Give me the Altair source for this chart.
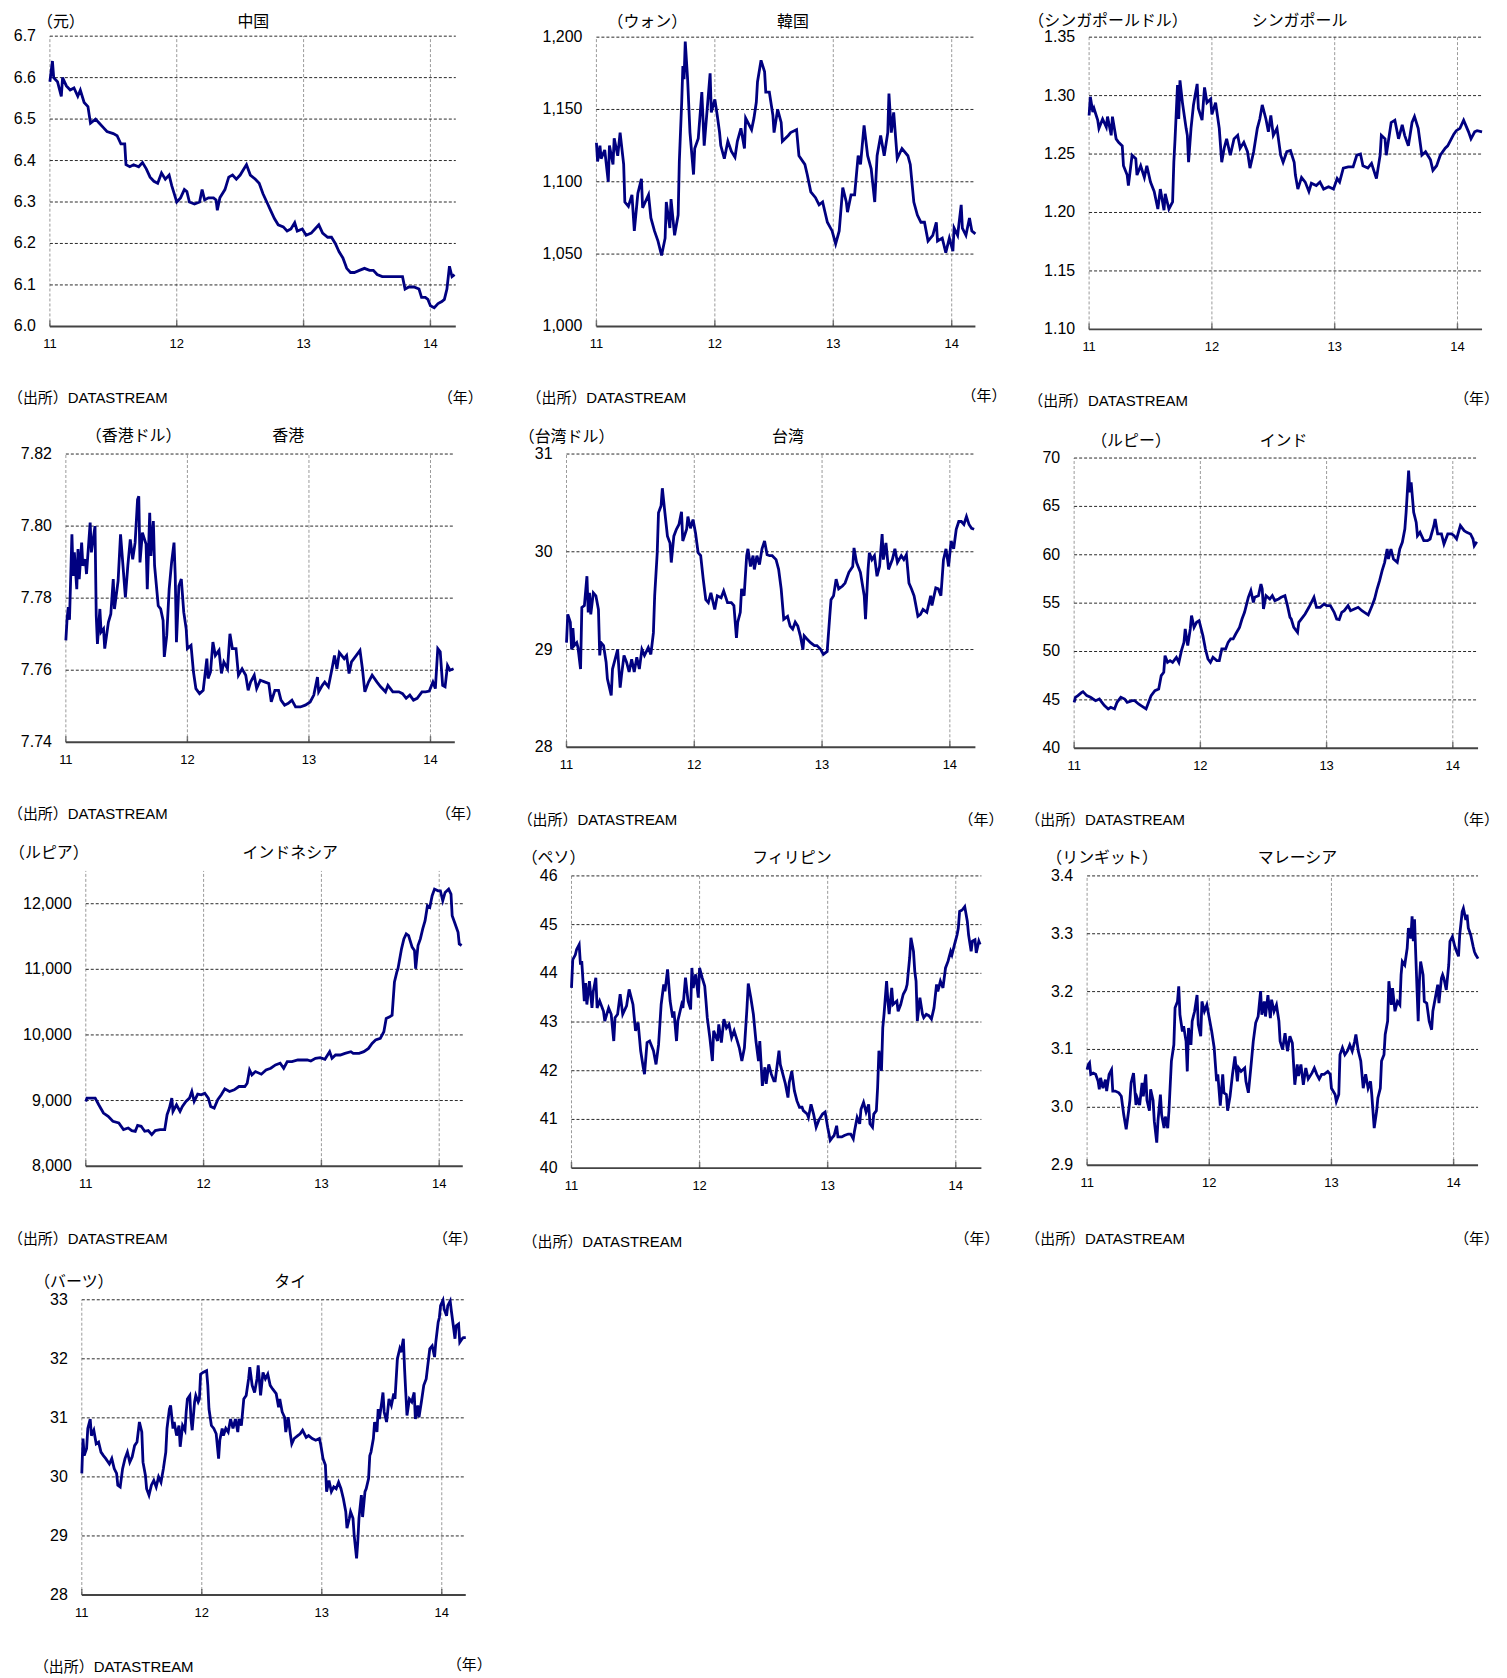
import altair as alt
import pandas as pd

# ---------------- data (decimal year, rate) ----------------
YEAR_TICKS = [11, 12, 13, 14]
X_DOMAIN = [11, 14.2]

CHINA = [(11.00,6.59),(11.02,6.64),(11.03,6.60),(11.06,6.59),(11.09,6.555),(11.10,6.60),(11.13,6.58),(11.16,6.57),(11.19,6.575),(11.22,6.555),(11.24,6.57),(11.27,6.54),(11.30,6.53),(11.32,6.49),(11.36,6.50),(11.39,6.49),(11.42,6.48),(11.45,6.47),(11.50,6.465),(11.53,6.46),(11.56,6.44),(11.59,6.44),(11.60,6.39),(11.63,6.385),(11.66,6.39),(11.70,6.385),(11.73,6.395),(11.76,6.38),(11.79,6.36),(11.82,6.35),(11.85,6.345),(11.88,6.37),(11.91,6.355),(11.94,6.365),(11.96,6.34),(11.98,6.32),(12.00,6.30),(12.03,6.31),(12.06,6.33),(12.08,6.325),(12.10,6.30),(12.14,6.295),(12.18,6.30),(12.20,6.33),(12.22,6.305),(12.25,6.31),(12.29,6.31),(12.31,6.305),(12.32,6.28),(12.34,6.31),(12.38,6.33),(12.41,6.36),(12.44,6.365),(12.47,6.355),(12.50,6.365),(12.53,6.38),(12.55,6.39),(12.58,6.365),(12.62,6.355),(12.65,6.345),(12.68,6.32),(12.71,6.30),(12.74,6.28),(12.77,6.26),(12.80,6.245),(12.84,6.24),(12.87,6.23),(12.90,6.235),(12.93,6.25),(12.95,6.23),(12.99,6.235),(13.02,6.22),(13.06,6.225),(13.09,6.235),(13.12,6.245),(13.15,6.225),(13.19,6.215),(13.22,6.215),(13.25,6.20),(13.28,6.18),(13.31,6.165),(13.34,6.14),(13.37,6.13),(13.40,6.13),(13.44,6.135),(13.48,6.14),(13.52,6.135),(13.55,6.135),(13.58,6.125),(13.62,6.12),(13.66,6.12),(13.70,6.12),(13.74,6.12),(13.78,6.12),(13.80,6.09),(13.83,6.095),(13.87,6.095),(13.91,6.09),(13.93,6.07),(13.96,6.07),(13.98,6.065),(14.00,6.05),(14.03,6.045),(14.06,6.055),(14.09,6.06),(14.11,6.065),(14.13,6.09),(14.15,6.145),(14.17,6.12),(14.19,6.125)]

KOREA = [(11.00,1127),(11.01,1114),(11.03,1125),(11.04,1116),(11.07,1122),(11.10,1100),(11.11,1125),(11.14,1112),(11.15,1130),(11.18,1118),(11.20,1134),(11.23,1112),(11.24,1086),(11.27,1083),(11.30,1091),(11.32,1066),(11.35,1092),(11.38,1102),(11.39,1082),(11.44,1091),(11.46,1075),(11.49,1066),(11.52,1059),(11.55,1049),(11.58,1061),(11.59,1086),(11.62,1068),(11.63,1088),(11.66,1063),(11.69,1077),(11.70,1114),(11.72,1155),(11.73,1180),(11.74,1171),(11.75,1197),(11.77,1171),(11.79,1134),(11.82,1105),(11.83,1123),(11.86,1130),(11.89,1162),(11.91,1125),(11.96,1175),(11.97,1148),(12.00,1157),(12.02,1146),(12.04,1134),(12.05,1125),(12.08,1116),(12.11,1128),(12.14,1121),(12.17,1117),(12.19,1128),(12.22,1137),(12.25,1123),(12.26,1144),(12.31,1136),(12.33,1144),(12.35,1155),(12.36,1169),(12.39,1184),(12.42,1176),(12.43,1162),(12.46,1162),(12.49,1146),(12.50,1134),(12.53,1150),(12.56,1141),(12.57,1128),(12.62,1132),(12.64,1134),(12.69,1136),(12.71,1118),(12.76,1112),(12.78,1105),(12.81,1093),(12.85,1089),(12.88,1084),(12.91,1086),(12.95,1072),(12.99,1066),(13.02,1057),(13.05,1066),(13.08,1096),(13.11,1086),(13.12,1079),(13.15,1091),(13.18,1091),(13.21,1118),(13.23,1112),(13.26,1139),(13.29,1118),(13.32,1109),(13.35,1086),(13.37,1118),(13.40,1132),(13.43,1118),(13.46,1134),(13.47,1161),(13.49,1134),(13.51,1148),(13.54,1116),(13.58,1123),(13.63,1118),(13.65,1112),(13.68,1086),(13.71,1077),(13.74,1072),(13.77,1072),(13.80,1059),(13.84,1063),(13.87,1072),(13.88,1059),(13.92,1061),(13.95,1051),(13.98,1061),(14.01,1052),(14.02,1068),(14.05,1063),(14.08,1084),(14.09,1068),(14.12,1063),(14.15,1075),(14.17,1066),(14.20,1064)]

SINGAPORE = [(11.00,1.283),(11.01,1.299),(11.03,1.286),(11.04,1.289),(11.07,1.279),(11.08,1.272),(11.11,1.280),(11.14,1.273),(11.15,1.282),(11.18,1.266),(11.19,1.282),(11.22,1.263),(11.24,1.260),(11.27,1.257),(11.28,1.240),(11.31,1.232),(11.32,1.223),(11.35,1.249),(11.38,1.246),(11.39,1.232),(11.42,1.240),(11.45,1.230),(11.47,1.240),(11.50,1.226),(11.53,1.218),(11.56,1.203),(11.58,1.220),(11.61,1.202),(11.62,1.216),(11.65,1.203),(11.68,1.209),(11.69,1.243),(11.70,1.263),(11.72,1.309),(11.73,1.280),(11.74,1.313),(11.76,1.294),(11.79,1.272),(11.80,1.266),(11.81,1.243),(11.83,1.272),(11.85,1.292),(11.88,1.310),(11.89,1.289),(11.92,1.279),(11.94,1.307),(11.96,1.294),(11.99,1.297),(12.00,1.284),(12.03,1.294),(12.06,1.272),(12.08,1.243),(12.10,1.255),(12.12,1.263),(12.15,1.249),(12.18,1.263),(12.21,1.266),(12.23,1.255),(12.26,1.260),(12.29,1.252),(12.31,1.238),(12.34,1.252),(12.37,1.272),(12.39,1.280),(12.41,1.292),(12.44,1.280),(12.46,1.269),(12.48,1.283),(12.50,1.266),(12.53,1.272),(12.56,1.249),(12.58,1.243),(12.61,1.252),(12.64,1.253),(12.67,1.243),(12.68,1.232),(12.70,1.220),(12.73,1.230),(12.76,1.226),(12.79,1.218),(12.81,1.225),(12.85,1.223),(12.88,1.226),(12.91,1.220),(12.95,1.222),(12.99,1.220),(13.02,1.229),(13.04,1.226),(13.07,1.238),(13.11,1.239),(13.15,1.239),(13.18,1.249),(13.21,1.250),(13.23,1.240),(13.27,1.238),(13.30,1.242),(13.34,1.229),(13.37,1.249),(13.38,1.266),(13.41,1.263),(13.42,1.249),(13.46,1.277),(13.49,1.279),(13.52,1.263),(13.55,1.275),(13.57,1.266),(13.60,1.257),(13.63,1.277),(13.65,1.282),(13.68,1.272),(13.71,1.249),(13.74,1.252),(13.78,1.245),(13.80,1.236),(13.83,1.240),(13.86,1.249),(13.90,1.255),(13.92,1.257),(13.97,1.267),(13.99,1.270),(14.02,1.272),(14.05,1.279),(14.09,1.269),(14.11,1.263),(14.14,1.269),(14.16,1.270),(14.20,1.269)]

HONGKONG = [(11.00,7.7683),(11.01,7.7742),(11.02,7.7775),(11.03,7.774),(11.05,7.7977),(11.06,7.7862),(11.07,7.7927),(11.09,7.7825),(11.10,7.7936),(11.11,7.7853),(11.13,7.7954),(11.14,7.789),(11.16,7.7908),(11.17,7.7867),(11.20,7.801),(11.21,7.7927),(11.24,7.800),(11.25,7.7752),(11.26,7.7673),(11.28,7.777),(11.29,7.7706),(11.31,7.7715),(11.32,7.766),(11.35,7.7733),(11.37,7.7756),(11.39,7.7853),(11.40,7.777),(11.43,7.7848),(11.45,7.7977),(11.47,7.789),(11.49,7.7802),(11.51,7.789),(11.53,7.7963),(11.55,7.7908),(11.57,7.7954),(11.59,7.8074),(11.60,7.8083),(11.61,7.7899),(11.63,7.7982),(11.66,7.795),(11.67,7.7825),(11.69,7.8037),(11.70,7.7917),(11.72,7.8014),(11.73,7.789),(11.76,7.7779),(11.78,7.777),(11.80,7.7738),(11.81,7.7637),(11.83,7.7696),(11.85,7.7825),(11.87,7.7899),(11.89,7.7954),(11.90,7.7862),(11.91,7.7678),(11.93,7.7834),(11.95,7.7853),(11.97,7.7761),(11.99,7.7715),(12.00,7.766),(12.03,7.7669),(12.05,7.7595),(12.07,7.7549),(12.10,7.7535),(12.13,7.7544),(12.16,7.7632),(12.17,7.7577),(12.19,7.7595),(12.21,7.7678),(12.23,7.7641),(12.26,7.7655),(12.28,7.7591),(12.30,7.7623),(12.33,7.7604),(12.35,7.7701),(12.37,7.766),(12.40,7.766),(12.42,7.7586),(12.45,7.7604),(12.48,7.7586),(12.50,7.7544),(12.52,7.7567),(12.55,7.7586),(12.57,7.7549),(12.60,7.7572),(12.64,7.7567),(12.67,7.7563),(12.69,7.7512),(12.72,7.7544),(12.75,7.7544),(12.77,7.7517),(12.80,7.7503),(12.83,7.7508),(12.86,7.7517),(12.89,7.7498),(12.93,7.7498),(12.97,7.7503),(13.01,7.7512),(13.04,7.7531),(13.07,7.7581),(13.08,7.754),(13.11,7.7558),(13.13,7.7567),(13.16,7.7554),(13.19,7.7604),(13.21,7.7641),(13.23,7.7604),(13.25,7.7649),(13.29,7.7632),(13.31,7.7641),(13.33,7.7591),(13.35,7.7623),(13.37,7.7632),(13.39,7.7641),(13.42,7.7655),(13.44,7.7604),(13.46,7.754),(13.49,7.7567),(13.52,7.7586),(13.56,7.7567),(13.59,7.7554),(13.63,7.754),(13.65,7.7558),(13.69,7.754),(13.74,7.754),(13.77,7.7535),(13.80,7.7522),(13.83,7.7531),(13.86,7.7517),(13.89,7.7522),(13.93,7.754),(13.96,7.754),(13.99,7.7542),(14.02,7.7567),(14.04,7.7549),(14.06,7.766),(14.08,7.7651),(14.10,7.7558),(14.12,7.7554),(14.14,7.7613),(14.16,7.760),(14.19,7.7604)]

TAIWAN = [(11.00,29.07),(11.01,29.36),(11.03,29.28),(11.04,29.00),(11.05,29.22),(11.06,29.04),(11.08,29.07),(11.09,29.02),(11.11,28.80),(11.12,29.43),(11.14,29.45),(11.16,29.75),(11.17,29.38),(11.18,29.58),(11.19,29.36),(11.21,29.58),(11.23,29.55),(11.25,29.41),(11.26,28.94),(11.27,29.07),(11.29,29.04),(11.31,28.87),(11.32,28.70),(11.35,28.53),(11.36,28.80),(11.38,28.90),(11.40,29.00),(11.42,28.61),(11.43,28.73),(11.45,28.94),(11.47,28.87),(11.49,28.77),(11.51,28.90),(11.53,28.77),(11.55,28.92),(11.57,28.80),(11.59,29.00),(11.61,28.94),(11.64,29.02),(11.66,28.95),(11.68,29.17),(11.69,29.55),(11.71,29.99),(11.72,30.40),(11.74,30.47),(11.75,30.65),(11.77,30.40),(11.79,30.16),(11.81,30.09),(11.82,29.89),(11.84,30.16),(11.86,30.23),(11.88,30.28),(11.90,30.41),(11.91,30.11),(11.94,30.23),(11.95,30.36),(11.97,30.24),(11.99,30.33),(12.01,30.19),(12.03,29.99),(12.05,29.96),(12.07,29.72),(12.09,29.51),(12.11,29.48),(12.13,29.58),(12.16,29.41),(12.18,29.55),(12.21,29.53),(12.23,29.60),(12.26,29.48),(12.29,29.48),(12.31,29.45),(12.33,29.12),(12.34,29.28),(12.36,29.38),(12.37,29.62),(12.39,29.55),(12.41,29.96),(12.42,30.03),(12.44,29.85),(12.46,29.96),(12.47,29.82),(12.49,29.96),(12.51,29.87),(12.53,30.03),(12.55,30.11),(12.57,29.97),(12.59,29.96),(12.61,29.96),(12.64,29.92),(12.66,29.82),(12.68,29.62),(12.70,29.31),(12.73,29.34),(12.75,29.24),(12.77,29.21),(12.79,29.28),(12.81,29.24),(12.83,29.14),(12.85,29.00),(12.86,29.14),(12.88,29.11),(12.91,29.07),(12.94,29.04),(12.96,29.04),(12.99,29.00),(13.01,28.95),(13.04,28.98),(13.06,29.34),(13.07,29.51),(13.09,29.55),(13.11,29.72),(13.13,29.62),(13.16,29.65),(13.18,29.68),(13.21,29.79),(13.24,29.85),(13.25,30.04),(13.27,29.89),(13.30,29.79),(13.33,29.55),(13.34,29.31),(13.36,29.82),(13.37,29.99),(13.39,29.92),(13.41,29.96),(13.43,29.75),(13.45,29.85),(13.47,30.18),(13.48,29.92),(13.50,30.09),(13.52,29.82),(13.55,29.92),(13.57,30.03),(13.59,29.89),(13.62,29.96),(13.64,29.92),(13.66,29.97),(13.68,29.68),(13.70,29.62),(13.72,29.55),(13.73,29.48),(13.75,29.34),(13.77,29.36),(13.79,29.41),(13.82,29.38),(13.85,29.55),(13.86,29.45),(13.89,29.63),(13.91,29.62),(13.93,29.55),(13.95,29.92),(13.97,30.03),(13.99,29.85),(14.01,30.11),(14.03,30.03),(14.05,30.23),(14.07,30.31),(14.09,30.31),(14.11,30.28),(14.13,30.36),(14.15,30.28),(14.17,30.24),(14.19,30.23)]

INDIA = [(11.00,44.75),(11.01,45.27),(11.03,45.44),(11.06,45.78),(11.07,45.85),(11.10,45.44),(11.13,45.27),(11.15,45.09),(11.17,44.92),(11.20,45.09),(11.22,44.75),(11.24,44.41),(11.27,44.06),(11.29,44.23),(11.32,44.06),(11.34,44.75),(11.37,45.27),(11.40,45.09),(11.42,44.75),(11.46,44.92),(11.48,44.92),(11.51,44.58),(11.53,44.41),(11.57,44.06),(11.59,44.75),(11.61,45.44),(11.64,45.96),(11.67,46.13),(11.69,47.51),(11.71,47.85),(11.72,49.57),(11.74,48.88),(11.76,49.06),(11.78,48.88),(11.81,49.40),(11.83,48.88),(11.85,50.09),(11.87,50.95),(11.88,52.33),(11.90,50.61),(11.92,52.33),(11.93,53.71),(11.95,52.50),(11.97,53.02),(11.99,53.19),(12.02,51.64),(12.04,50.26),(12.06,49.23),(12.08,48.88),(12.10,49.40),(12.13,49.06),(12.15,49.06),(12.17,50.26),(12.20,50.26),(12.22,50.95),(12.24,51.30),(12.26,51.30),(12.28,51.81),(12.31,52.50),(12.33,53.36),(12.35,54.05),(12.38,55.60),(12.40,56.29),(12.42,55.08),(12.43,55.60),(12.46,55.77),(12.48,56.98),(12.49,56.46),(12.50,54.40),(12.52,55.77),(12.55,55.43),(12.57,55.77),(12.59,55.26),(12.62,55.43),(12.64,55.60),(12.67,55.77),(12.69,54.74),(12.71,53.53),(12.72,53.36),(12.74,52.50),(12.77,51.98),(12.78,53.02),(12.81,53.53),(12.83,53.88),(12.86,54.57),(12.88,55.08),(12.90,55.60),(12.92,54.57),(12.95,54.57),(12.98,54.91),(13.00,54.74),(13.03,54.74),(13.06,54.05),(13.08,53.36),(13.10,53.29),(13.12,54.05),(13.14,54.22),(13.17,54.74),(13.19,54.22),(13.22,54.40),(13.25,54.57),(13.28,54.22),(13.30,54.05),(13.33,53.78),(13.36,54.74),(13.38,55.43),(13.40,56.46),(13.42,57.32),(13.44,58.36),(13.46,59.22),(13.48,60.60),(13.49,59.56),(13.51,60.60),(13.53,59.56),(13.56,59.22),(13.58,60.60),(13.60,61.29),(13.62,62.66),(13.63,64.39),(13.65,68.69),(13.66,66.45),(13.67,67.49),(13.69,64.39),(13.71,63.35),(13.72,61.97),(13.74,62.32),(13.77,61.46),(13.80,61.46),(13.82,61.63),(13.85,63.01),(13.86,63.70),(13.88,62.15),(13.91,62.15),(13.93,61.11),(13.96,62.15),(13.99,62.15),(14.01,61.97),(14.03,61.63),(14.06,63.01),(14.09,62.49),(14.11,62.32),(14.14,62.15),(14.16,61.63),(14.17,60.94),(14.19,61.35)]

INDONESIA = [(11.00,8986),(11.01,9037),(11.04,9037),(11.08,9037),(11.11,8936),(11.15,8809),(11.19,8758),(11.23,8683),(11.28,8657),(11.32,8556),(11.36,8582),(11.39,8541),(11.42,8531),(11.44,8622),(11.47,8607),(11.50,8531),(11.53,8541),(11.56,8480),(11.59,8541),(11.63,8556),(11.67,8556),(11.69,8784),(11.71,8885),(11.73,9037),(11.74,8834),(11.77,8936),(11.80,8834),(11.82,8910),(11.85,8986),(11.88,9037),(11.90,9138),(11.92,8986),(11.95,9097),(11.98,9087),(12.01,9112),(12.04,9037),(12.06,8910),(12.09,8885),(12.12,9011),(12.15,9087),(12.18,9178),(12.22,9138),(12.26,9163),(12.30,9214),(12.35,9214),(12.37,9264),(12.39,9466),(12.41,9391),(12.44,9441),(12.49,9401),(12.53,9466),(12.57,9492),(12.61,9542),(12.65,9568),(12.68,9492),(12.71,9593),(12.75,9593),(12.80,9618),(12.84,9618),(12.88,9618),(12.91,9603),(12.95,9643),(12.99,9654),(13.03,9628),(13.07,9745),(13.09,9643),(13.12,9694),(13.16,9694),(13.20,9719),(13.25,9745),(13.27,9719),(13.32,9719),(13.36,9745),(13.40,9795),(13.43,9871),(13.46,9922),(13.50,9947),(13.53,10048),(13.55,10250),(13.58,10276),(13.60,10301),(13.62,10807),(13.64,10958),(13.65,11009),(13.68,11312),(13.70,11464),(13.72,11540),(13.74,11515),(13.77,11338),(13.79,11287),(13.80,11009),(13.82,11363),(13.84,11464),(13.86,11616),(13.88,11742),(13.90,11970),(13.92,11945),(13.94,12122),(13.96,12223),(13.99,12197),(14.01,12197),(14.03,12046),(14.05,12172),(14.08,12223),(14.10,12147),(14.11,11818),(14.13,11717),(14.16,11565),(14.17,11388),(14.19,11363)]

PHILIPPINES = [(11.00,43.70),(11.01,44.28),(11.03,44.38),(11.04,44.49),(11.06,44.59),(11.07,44.18),(11.08,44.25),(11.10,43.43),(11.11,43.80),(11.12,43.36),(11.14,43.84),(11.16,43.29),(11.17,43.63),(11.19,43.91),(11.20,43.29),(11.22,43.43),(11.25,43.22),(11.26,43.02),(11.29,43.29),(11.31,43.16),(11.33,42.61),(11.34,43.09),(11.36,43.16),(11.38,43.57),(11.40,43.16),(11.43,43.33),(11.45,43.67),(11.48,43.36),(11.50,42.82),(11.52,42.99),(11.54,42.41),(11.56,42.07),(11.57,41.93),(11.59,42.58),(11.61,42.61),(11.64,42.41),(11.66,42.13),(11.68,42.54),(11.70,43.36),(11.72,43.77),(11.73,43.63),(11.75,44.08),(11.77,43.43),(11.79,43.09),(11.80,43.22),(11.82,42.61),(11.83,43.02),(11.86,43.36),(11.87,43.29),(11.89,43.91),(11.91,43.43),(11.93,43.26),(11.94,44.11),(11.95,43.70),(11.97,43.98),(11.99,43.50),(12.00,44.11),(12.02,43.91),(12.04,43.74),(12.05,43.43),(12.06,43.09),(12.08,42.68),(12.10,42.20),(12.11,42.82),(12.14,42.61),(12.15,42.95),(12.17,42.58),(12.19,43.06),(12.21,42.88),(12.23,42.95),(12.25,42.68),(12.27,42.82),(12.29,42.65),(12.31,42.47),(12.33,42.20),(12.35,42.47),(12.37,43.29),(12.38,43.79),(12.40,43.50),(12.42,43.16),(12.44,42.61),(12.46,42.20),(12.47,42.61),(12.49,41.69),(12.51,42.07),(12.52,41.73),(12.54,42.13),(12.56,41.93),(12.58,41.79),(12.59,41.79),(12.62,42.41),(12.63,42.13),(12.65,41.93),(12.67,41.73),(12.69,41.45),(12.70,41.76),(12.72,41.99),(12.74,41.59),(12.76,41.38),(12.78,41.25),(12.80,41.25),(12.81,41.18),(12.84,41.11),(12.85,41.04),(12.87,41.31),(12.89,41.11),(12.91,40.84),(12.93,40.98),(12.96,41.11),(12.98,41.15),(13.00,40.84),(13.02,40.57),(13.04,40.64),(13.05,40.67),(13.07,40.87),(13.08,40.64),(13.11,40.64),(13.13,40.67),(13.16,40.70),(13.18,40.70),(13.20,40.60),(13.21,40.77),(13.23,41.04),(13.25,40.91),(13.26,41.21),(13.28,41.35),(13.30,41.15),(13.32,41.31),(13.33,40.91),(13.35,40.84),(13.36,41.11),(13.38,41.18),(13.39,41.66),(13.40,42.41),(13.42,42.00),(13.43,42.88),(13.44,43.16),(13.46,43.84),(13.47,43.43),(13.48,43.16),(13.50,43.70),(13.51,43.36),(13.54,43.43),(13.55,43.22),(13.57,43.36),(13.59,43.57),(13.61,43.67),(13.62,43.77),(13.64,44.32),(13.65,44.73),(13.67,44.45),(13.68,44.04),(13.69,43.84),(13.70,43.02),(13.72,43.50),(13.74,43.16),(13.75,43.09),(13.77,43.16),(13.79,43.13),(13.81,43.06),(13.83,43.29),(13.85,43.77),(13.86,43.63),(13.88,43.84),(13.90,43.70),(13.92,44.11),(13.94,44.25),(13.96,44.45),(13.97,44.38),(13.99,44.59),(14.01,44.79),(14.02,44.93),(14.03,45.27),(14.05,45.30),(14.07,45.37),(14.09,45.07),(14.10,44.79),(14.12,44.45),(14.13,44.66),(14.15,44.69),(14.16,44.42),(14.18,44.66),(14.19,44.59)]

MALAYSIA = [(11.00,3.065),(11.01,3.074),(11.02,3.077),(11.03,3.057),(11.05,3.059),(11.07,3.057),(11.09,3.045),(11.10,3.031),(11.11,3.051),(11.13,3.033),(11.15,3.048),(11.16,3.028),(11.18,3.057),(11.20,3.065),(11.21,3.028),(11.23,3.028),(11.26,3.025),(11.28,3.019),(11.30,2.987),(11.32,2.962),(11.34,2.994),(11.35,3.012),(11.36,3.042),(11.38,3.059),(11.40,3.004),(11.41,3.016),(11.43,3.004),(11.45,3.042),(11.46,3.019),(11.48,3.057),(11.49,3.012),(11.51,2.994),(11.52,3.031),(11.54,3.012),(11.55,2.976),(11.57,2.939),(11.58,2.976),(11.60,3.022),(11.61,2.987),(11.63,2.964),(11.64,2.984),(11.66,2.964),(11.67,2.994),(11.69,3.080),(11.71,3.108),(11.72,3.172),(11.74,3.183),(11.75,3.209),(11.76,3.160),(11.78,3.131),(11.79,3.140),(11.81,3.114),(11.82,3.062),(11.83,3.137),(11.85,3.108),(11.86,3.149),(11.88,3.166),(11.90,3.194),(11.91,3.143),(11.93,3.123),(11.94,3.183),(11.96,3.166),(11.98,3.177),(12.00,3.154),(12.02,3.131),(12.04,3.103),(12.06,3.045),(12.07,3.057),(12.09,3.003),(12.11,3.057),(12.12,3.025),(12.14,3.022),(12.15,2.994),(12.17,3.019),(12.19,3.057),(12.21,3.088),(12.23,3.045),(12.24,3.068),(12.26,3.062),(12.29,3.068),(12.30,3.045),(12.32,3.025),(12.34,3.068),(12.36,3.114),(12.38,3.146),(12.40,3.157),(12.42,3.201),(12.43,3.160),(12.45,3.183),(12.46,3.157),(12.48,3.194),(12.50,3.154),(12.51,3.186),(12.53,3.166),(12.55,3.177),(12.57,3.149),(12.58,3.114),(12.60,3.100),(12.62,3.128),(12.64,3.097),(12.66,3.123),(12.68,3.111),(12.70,3.039),(12.72,3.074),(12.73,3.054),(12.75,3.074),(12.77,3.039),(12.79,3.068),(12.81,3.049),(12.84,3.059),(12.86,3.068),(12.88,3.057),(12.90,3.049),(12.92,3.057),(12.94,3.057),(12.97,3.062),(12.99,3.057),(13.00,3.033),(13.03,3.022),(13.04,3.010),(13.06,3.022),(13.07,3.091),(13.09,3.103),(13.11,3.091),(13.13,3.097),(13.15,3.108),(13.17,3.097),(13.19,3.114),(13.20,3.126),(13.22,3.097),(13.24,3.080),(13.26,3.033),(13.28,3.057),(13.30,3.033),(13.32,3.045),(13.33,3.022),(13.35,2.964),(13.37,2.994),(13.38,3.016),(13.40,3.033),(13.41,3.080),(13.43,3.091),(13.44,3.126),(13.46,3.149),(13.47,3.218),(13.49,3.177),(13.50,3.206),(13.52,3.166),(13.54,3.183),(13.56,3.177),(13.57,3.229),(13.58,3.252),(13.60,3.246),(13.62,3.275),(13.63,3.310),(13.65,3.292),(13.66,3.330),(13.67,3.287),(13.68,3.325),(13.69,3.264),(13.71,3.149),(13.72,3.218),(13.73,3.252),(13.75,3.229),(13.76,3.183),(13.78,3.180),(13.80,3.149),(13.82,3.134),(13.83,3.166),(13.85,3.189),(13.87,3.212),(13.88,3.180),(13.90,3.223),(13.91,3.229),(13.92,3.223),(13.94,3.203),(13.96,3.246),(13.97,3.287),(13.99,3.295),(14.01,3.278),(14.02,3.272),(14.04,3.261),(14.05,3.298),(14.07,3.338),(14.08,3.344),(14.10,3.324),(14.11,3.333),(14.12,3.310),(14.14,3.298),(14.16,3.278),(14.17,3.269),(14.18,3.264),(14.20,3.257)]

THAILAND = [(11.00,30.06),(11.01,30.65),(11.02,30.36),(11.04,30.48),(11.05,30.82),(11.07,30.98),(11.08,30.70),(11.10,30.79),(11.12,30.56),(11.14,30.59),(11.16,30.42),(11.18,30.36),(11.20,30.31),(11.23,30.22),(11.25,30.31),(11.27,30.14),(11.29,30.06),(11.30,29.86),(11.32,29.83),(11.34,30.14),(11.36,30.31),(11.38,30.42),(11.40,30.25),(11.42,30.34),(11.44,30.53),(11.46,30.59),(11.48,30.93),(11.50,30.76),(11.51,30.25),(11.53,30.03),(11.54,29.80),(11.56,29.69),(11.58,29.86),(11.60,29.94),(11.62,29.83),(11.64,30.00),(11.66,29.91),(11.68,30.14),(11.70,30.42),(11.71,30.82),(11.73,31.15),(11.74,31.21),(11.76,30.82),(11.77,30.93),(11.79,30.70),(11.81,30.87),(11.82,30.51),(11.84,30.87),(11.86,30.79),(11.87,31.10),(11.88,31.32),(11.90,31.38),(11.91,30.98),(11.92,30.79),(11.94,31.27),(11.95,31.38),(11.97,31.27),(11.98,31.32),(11.99,31.74),(12.01,31.77),(12.04,31.80),(12.05,31.55),(12.06,31.15),(12.08,30.87),(12.10,30.82),(12.12,30.73),(12.14,30.31),(12.15,30.62),(12.17,30.82),(12.18,30.70),(12.20,30.82),(12.22,30.76),(12.24,30.98),(12.26,30.82),(12.28,30.98),(12.30,30.76),(12.31,30.98),(12.33,30.87),(12.35,31.32),(12.37,31.38),(12.39,31.66),(12.40,31.86),(12.42,31.55),(12.44,31.43),(12.46,31.66),(12.47,31.89),(12.49,31.38),(12.51,31.77),(12.53,31.66),(12.55,31.74),(12.57,31.55),(12.59,31.49),(12.62,31.41),(12.64,31.18),(12.65,31.32),(12.67,31.10),(12.69,31.01),(12.70,30.76),(12.72,31.01),(12.74,30.70),(12.75,30.56),(12.77,30.65),(12.80,30.70),(12.82,30.73),(12.84,30.79),(12.87,30.67),(12.89,30.70),(12.92,30.65),(12.95,30.62),(12.98,30.65),(12.99,30.56),(13.01,30.31),(13.03,30.20),(13.04,29.75),(13.06,29.94),(13.08,29.75),(13.10,29.83),(13.12,29.80),(13.14,29.91),(13.16,29.80),(13.18,29.63),(13.20,29.41),(13.21,29.13),(13.23,29.30),(13.24,29.41),(13.26,29.30),(13.27,29.01),(13.29,28.62),(13.30,28.90),(13.31,29.30),(13.33,29.69),(13.34,29.32),(13.36,29.75),(13.37,29.80),(13.39,29.97),(13.40,30.36),(13.41,30.42),(13.43,30.65),(13.44,30.93),(13.46,30.76),(13.47,31.15),(13.48,30.98),(13.50,31.27),(13.51,31.43),(13.52,31.10),(13.54,30.93),(13.56,31.32),(13.58,31.21),(13.60,31.41),(13.61,31.32),(13.63,32.00),(13.65,32.17),(13.66,32.11),(13.68,32.34),(13.69,31.83),(13.70,31.43),(13.71,31.04),(13.73,31.32),(13.75,31.27),(13.77,31.43),(13.78,30.98),(13.80,31.21),(13.81,31.01),(13.83,31.27),(13.85,31.55),(13.87,31.66),(13.88,31.83),(13.90,32.17),(13.92,32.22),(13.94,32.03),(13.95,32.28),(13.97,32.62),(13.98,32.70),(13.99,32.90),(14.01,32.99),(14.02,32.84),(14.04,32.73),(14.05,32.90),(14.07,32.98),(14.08,32.81),(14.10,32.50),(14.11,32.34),(14.12,32.56),(14.14,32.59),(14.15,32.28),(14.17,32.34),(14.18,32.36),(14.20,32.36)]

TITLES = ["中国", "韓国", "シンガポール", "香港", "台湾", "インド", "インドネシア", "フィリピン", "マレーシア", "タイ"]
UNITS = ["（元）", "（ウォン）", "（シンガポールドル）", "（香港ドル）", "（台湾ドル）", "（ルピー）", "（ルピア）", "（ペソ）", "（リンギット）", "（バーツ）"]
SOURCE = "（出所）DATASTREAM"
YEAR_LABEL = "（年）"

Y_TICKS = [
    [6.0, 6.1, 6.2, 6.3, 6.4, 6.5, 6.6, 6.7],
    [1000, 1050, 1100, 1150, 1200],
    [1.10, 1.15, 1.20, 1.25, 1.30, 1.35],
    [7.74, 7.76, 7.78, 7.80, 7.82],
    [28, 29, 30, 31],
    [40, 45, 50, 55, 60, 65, 70],
    [8000, 9000, 10000, 11000, 12000],
    [40, 41, 42, 43, 44, 45, 46],
    [2.9, 3.0, 3.1, 3.2, 3.3, 3.4],
    [28, 29, 30, 31, 32, 33],
]
Y_DOMAINS = [[6.0, 6.7], [1000, 1200], [1.10, 1.35], [7.74, 7.82], [28, 31],
             [40, 70], [8000, 12500], [40, 46], [2.9, 3.4], [28, 33]]
Y_FORMATS = [".1f", ",", ".2f", ".2f", "d", "d", ",", "d", ".1f", "d"]
SERIES = [CHINA, KOREA, SINGAPORE, HONGKONG, TAIWAN, INDIA, INDONESIA, PHILIPPINES, MALAYSIA, THAILAND]

# ---------------- layout (plot boxes in chart pixels) ----------------
BOXES = [  # left, top, right, bottom
    (42, 26, 449, 317), (590, 27, 970, 317), (1084, 27, 1478, 320),
    (58, 445, 448, 734), (560, 445, 970, 739), (1069, 449, 1474, 740),
    (78, 863, 456, 1159), (565, 868, 976, 1161), (1082, 868, 1474, 1158),
    (74, 1293, 459, 1589),
]
UNIT_POS = [(53, 12), (641, 12), (1103, 11), (126, 427), (560, 428), (1126, 432),
            (41, 845), (547, 850), (1097, 850), (66, 1275)]
TITLE_POS = [(246, 12), (787, 12), (1295, 11), (281, 427), (782, 428), (1279, 432),
             (283, 845), (786, 850), (1293, 850), (283, 1275)]
SRC_POS = [(0, 389), (520, 389), (1023, 392), (0, 806), (511, 812), (1020, 812),
           (0, 1232), (516, 1235), (1020, 1232), (26, 1661)]
YEAR_POS = [(476, 389), (1001, 387), (1495, 390), (474, 806), (998, 812), (1495, 812),
            (471, 1232), (994, 1232), (1495, 1232), (485, 1659)]

W, H = 1491, 1662
NAVY = "#000080"
JP_FONT = "Noto Sans CJK JP"
NUM_FONT = "Liberation Sans"
MIX_FONT = "Liberation Sans, Noto Sans CJK JP"


def panel(i):
    L, T, R, B = BOXES[i]
    ymin, ymax = Y_DOMAINS[i]
    xs = alt.Scale(domain=X_DOMAIN, range=[L, R], nice=False, zero=False)
    ys = alt.Scale(domain=[ymin, ymax], range=[B, T], nice=False, zero=False)
    df = pd.DataFrame(SERIES[i], columns=["x", "y"])
    years = pd.DataFrame({"yr": YEAR_TICKS})
    yvals = pd.DataFrame({"v": Y_TICKS[i]})
    hvals = pd.DataFrame({"v": [v for v in Y_TICKS[i] if v > ymin]})

    vgrid = alt.Chart(years).mark_rule(color="#9a9a9a", strokeDash=[3, 2], strokeWidth=1).encode(
        x=alt.X("yr:Q", scale=xs, axis=None),
        y=alt.YDatum(ymin, scale=ys, axis=None),
        y2=alt.Y2Datum(ymax),
    )
    hgrid = alt.Chart(hvals).mark_rule(color="#2a2a2a", strokeDash=[3, 2], strokeWidth=1).encode(
        y=alt.Y("v:Q", scale=ys, axis=None),
        x=alt.XDatum(X_DOMAIN[0], scale=xs, axis=None),
        x2=alt.X2Datum(X_DOMAIN[1]),
    )
    baseline = alt.Chart(pd.DataFrame({"b": [ymin]})).mark_rule(color="#444444", strokeWidth=2).encode(
        y=alt.Y("b:Q", scale=ys, axis=None),
        x=alt.XDatum(X_DOMAIN[0], scale=xs, axis=None),
        x2=alt.X2Datum(X_DOMAIN[1]),
    )
    ticks = alt.Chart(years).mark_tick(orient="vertical", size=6, thickness=1.5,
                                       color="#444444", yOffset=-3).encode(
        x=alt.X("yr:Q", scale=xs, axis=None),
        y=alt.YDatum(ymin, scale=ys, axis=None),
    )
    xlabels = alt.Chart(years).mark_text(align="center", baseline="middle", fontSize=13,
                                         font=NUM_FONT, color="#000000", dy=18).encode(
        x=alt.X("yr:Q", scale=xs, axis=None),
        y=alt.YDatum(ymin, scale=ys, axis=None),
        text=alt.Text("yr:Q", format="d"),
    )
    ylabels = alt.Chart(yvals).mark_text(align="right", baseline="middle", fontSize=16,
                                         font=NUM_FONT, color="#000000", dx=-14).encode(
        y=alt.Y("v:Q", scale=ys, axis=None),
        x=alt.XDatum(X_DOMAIN[0], scale=xs, axis=None),
        text=alt.Text("v:Q", format=Y_FORMATS[i]),
    )
    line = alt.Chart(df).mark_line(color=NAVY, strokeWidth=2.8).encode(
        x=alt.X("x:Q", scale=xs, axis=None),
        y=alt.Y("y:Q", scale=ys, axis=None),
    )
    return alt.layer(vgrid, hgrid, baseline, ticks, xlabels, ylabels, line)


def label(text, pos, align, size, font):
    return alt.Chart(pd.DataFrame({"t": [text]})).mark_text(
        align=align, baseline="middle", fontSize=size, font=font, color="#000000"
    ).encode(text="t:N", x=alt.value(pos[0]), y=alt.value(pos[1]))


layers = [panel(i) for i in range(10)]
for i in range(10):
    layers.append(label(UNITS[i], UNIT_POS[i], "center", 16, JP_FONT))
    layers.append(label(TITLES[i], TITLE_POS[i], "center", 16, JP_FONT))
    layers.append(label(SOURCE, SRC_POS[i], "left", 15, MIX_FONT))
    layers.append(label(YEAR_LABEL, YEAR_POS[i], "right", 15, JP_FONT))

chart = alt.layer(*layers).resolve_scale(x="independent", y="independent").properties(
    width=W, height=H, padding=0, background="#ffffff"
).configure_view(stroke="transparent")

chart.save("out.html", embed_options={"renderer": "svg", "actions": False})
